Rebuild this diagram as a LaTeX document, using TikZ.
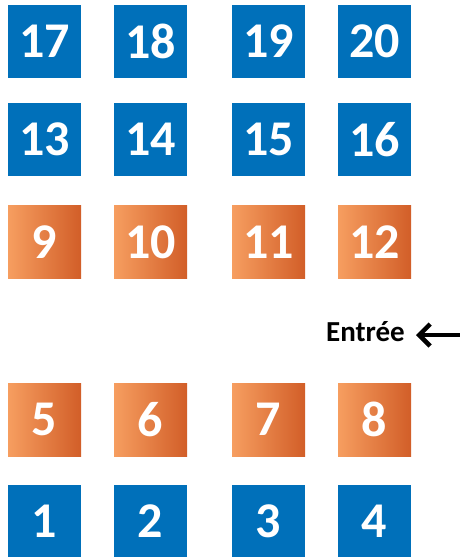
\documentclass[tikz,border=0pt]{standalone}
\usepackage{fontspec}
\setmainfont{Carlito}
\usetikzlibrary{arrows.meta}
\definecolor{boxblue}{RGB}{0,112,186}
\definecolor{orL}{RGB}{246,158,96}
\definecolor{orM}{RGB}{240,120,36}
\definecolor{orR}{RGB}{210,94,40}
\tikzset{
  seat/.style={minimum width=73pt,minimum height=73pt,inner sep=0pt,text=white,font=\fontsize{50}{50}\selectfont\bfseries},
  blueseat/.style={seat,fill=boxblue},
  orangeseat/.style={seat,left color=orL,middle color=orM,right color=orR},
  lbl/.style={font=\fontsize{29}{29}\selectfont\bfseries,inner sep=0pt,text=black}
}
\begin{document}
\begin{tikzpicture}[x=1pt,y=1pt]
\useasboundingbox (0,0) rectangle (460,-557);
% row 5 (top)
\node[blueseat] (s17) at (44.5,-41.5) {17};
\node[blueseat] (s18) at (150.5,-41.5) {18};
\node[blueseat] (s19) at (268.5,-41.5) {19};
\node[blueseat] (s20) at (374.5,-41.5) {20};
% row 4
\node[blueseat] (s13) at (44.5,-139.5) {13};
\node[blueseat] (s14) at (150.5,-139.5) {14};
\node[blueseat] (s15) at (268.5,-139.5) {15};
\node[blueseat] (s16) at (374.5,-139.5) {16};
% row 3
\node[orangeseat] (s9) at (44.5,-242) {9};
\node[orangeseat] (s10) at (150.5,-242) {10};
\node[orangeseat] (s11) at (268.5,-242) {11};
\node[orangeseat] (s12) at (374.5,-242) {12};
% row 2
\node[orangeseat] (s5) at (44.5,-419.5) {5};
\node[orangeseat] (s6) at (150.5,-419.5) {6};
\node[orangeseat] (s7) at (268.5,-419.5) {7};
\node[orangeseat] (s8) at (374.5,-419.5) {8};
% row 1
\node[blueseat] (s1) at (44.5,-521) {1};
\node[blueseat] (s2) at (150.5,-521) {2};
\node[blueseat] (s3) at (268.5,-521) {3};
\node[blueseat] (s4) at (374.5,-521) {4};
% entrance
\node[lbl,anchor=east] (entree) at (405,-332) {Entrée};
\coordinate (arrstart) at (460,-335);
\coordinate (arrend) at (416,-335);
\draw[line width=4pt,-{Straight Barb[length=11pt,width=22pt,line width=4.5pt]}] (arrstart) -- (arrend);
\end{tikzpicture}
\end{document}
